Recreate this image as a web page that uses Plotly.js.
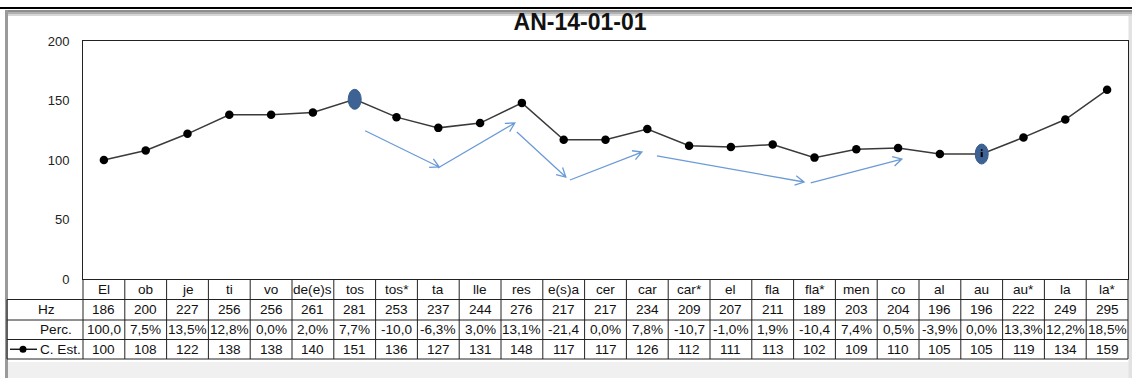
<!DOCTYPE html>
<html>
<head>
<meta charset="utf-8">
<script src="https://cdn.plot.ly/plotly-3.0.1.min.js"></script>
<style>html,body{margin:0;padding:0;background:#fff;}#chart{width:1132px;height:378px;}</style>
</head>
<body>
<div id="chart"></div>
<script>
const categories = ['El','ob','je','ti','vo','de(e)s','tos','tos*','ta','lle','res','e(s)a','cer','car','car*','el','fla','fla*','men','co','al','au','au*','la','la*'];
const hz = [186,200,227,256,256,261,281,253,237,244,276,217,217,234,209,207,211,189,203,204,196,196,222,249,295];
const perc = ['100,0','7,5%','13,5%','12,8%','0,0%','2,0%','7,7%','-10,0','-6,3%','3,0%','13,1%','-21,4','0,0%','7,8%','-10,7','-1,0%','1,9%','-10,4','7,4%','0,5%','-3,9%','0,0%','13,3%','12,2%','18,5%'];
const cEst = [100,108,122,138,138,140,151,136,127,131,148,117,117,126,112,111,113,102,109,110,105,105,119,134,159];
const highlighted = ['tos','au'];
const rowLabels = ['Hz','Perc.','C. Est.'];
const yTicks = [0,50,100,150,200];
const chartTitle = 'AN-14-01-01';

// decorative arrows (annotation sketch), in axis units: [x0,y0,x1,y1]
const arrows = [
  [6.25,124.6,8.02,94.1],
  [7.99,93.3,9.83,131.1],
  [9.88,123.5,11.05,85.7],
  [11.15,83.2,12.87,106.7],
  [13.23,103.4,16.75,81.5],
  [16.91,80.7,19.09,100.8]
];

const W = 1132, H = 378;
const L = 83, R = 1128, T = 41, B = 279;
const pw = R - L, ph = B - T;
const X = px => (px - L) / pw;
const Y = py => (B - py) / ph;
const sx = pw / categories.length;   // px per category
const sy = ph / 200;                  // px per unit

const xs = categories.map((c, i) => i);
const shapes = [];
const annotations = [];

function rectPx(x0, y0, x1, y1, fill, layer) {
  shapes.push({type:'rect', xref:'paper', yref:'paper', x0:X(x0), x1:X(x1), y0:Y(y0), y1:Y(y1),
    fillcolor:fill, line:{width:0}, layer: layer || 'below'});
}
function linePx(x0, y0, x1, y1, color, width, layer) {
  shapes.push({type:'line', xref:'paper', yref:'paper', x0:X(x0), x1:X(x1), y0:Y(y0), y1:Y(y1),
    line:{color:color, width:width}, layer: layer || 'below'});
}
// frame
rectPx(8, 362, 1132, 378, '#f0f0f0');
rectPx(1128.5, 10, 1132, 378, '#e2e2e2');
rectPx(5, 10, 8, 378, '#9a9a9a');
rectPx(8, 10, 1132, 12, '#8e8e8e');
rectPx(8, 12, 1132, 14, '#b0b0b0');
rectPx(8, 14, 1132, 16, '#d6d6d6');
linePx(0, 8, W, 8, '#000', 2);

// table grid
const rowY = [279, 299.5, 320, 339.5, 359];
for (let r = 1; r < rowY.length; r++) linePx(7, rowY[r], R, rowY[r], '#222', 1);
linePx(7, rowY[1], 7, rowY[4], '#222', 1);
for (let k = 0; k <= categories.length; k++) {
  const px = L + k * sx;
  linePx(px, rowY[0], px, rowY[4], '#222', 1);
}

// table text
const tfont = {family:'Liberation Sans, Arial, sans-serif', size:13.6, color:'#111'};
const rowsData = [categories, hz, perc, cEst];
rowsData.forEach((row, r) => {
  const cy = (rowY[r] + rowY[r + 1]) / 2;
  row.forEach((v, i) => {
    annotations.push({xref:'x', yref:'paper', x:i, y:Y(cy), text:String(v), showarrow:false,
      font:tfont, xanchor:'center', yanchor:'middle'});
  });
});
const labelX = [46.5, 56, 60.5];
rowLabels.forEach((t, r) => {
  const cy = (rowY[r + 1] + rowY[r + 2]) / 2;
  annotations.push({xref:'paper', yref:'paper', x:X(labelX[r]), y:Y(cy), text:t, showarrow:false,
    font:tfont, xanchor:'center', yanchor:'middle'});
});
// legend key
const ky = (rowY[3] + rowY[4]) / 2;
linePx(10, ky, 37, ky, '#000', 1.3, 'above');
shapes.push({type:'circle', xref:'paper', yref:'paper', x0:X(19.5), x1:X(26.5), y0:Y(ky+3.5), y1:Y(ky-3.5),
  fillcolor:'#000', line:{width:0}, layer:'above'});

// highlighted ellipses
highlighted.forEach((c, n) => {
  const i = categories.indexOf(c);
  const v = cEst[i];
  shapes.push({type:'circle', xref:'x', yref:'y', x0:i - 6.5/sx, x1:i + 6.5/sx, y0:v - 10/sy, y1:v + 10/sy,
    fillcolor:'#3d6394', line:{color:'#3a5d8c', width:1}, layer:'above'});
  if (n === 1) {
    shapes.push({type:'line', xref:'x', yref:'y', x0:i, x1:i, y0:v - 3/sy, y1:v + 2/sy,
      line:{color:'#000', width:2}, layer:'above'});
    shapes.push({type:'circle', xref:'x', yref:'y', x0:i - 1/sx, x1:i + 1/sx, y0:v + 3/sy, y1:v + 5/sy,
      fillcolor:'#000', line:{width:0}, layer:'above'});
  }
});

// arrows with open heads
arrows.forEach(a => {
  const [x0, y0, x1, y1] = a;
  const dx = (x1 - x0) * sx, dy = -(y1 - y0) * sy;
  const th = Math.atan2(dy, dx);
  const Lh = 10;
  const pts = [th + Math.PI - 0.5, th + Math.PI + 0.5].map(ang =>
    [x1 + Lh * Math.cos(ang) / sx, y1 - Lh * Math.sin(ang) / sy]);
  const path = `M${x0},${y0} L${x1},${y1} M${pts[0][0]},${pts[0][1]} L${x1},${y1} L${pts[1][0]},${pts[1][1]}`;
  shapes.push({type:'path', xref:'x', yref:'y', path:path, line:{color:'#6b9bd6', width:1.3}, layer:'above'});
});

const trace = {
  x: xs, y: cEst, text: categories, type:'scatter', mode:'lines+markers',
  line:{color:'#3a3a3a', width:1.5},
  marker:{color:'#000', size:8.5},
  hoverinfo:'text+y', cliponaxis:false
};

const layout = {
  width: W, height: H,
  margin:{l:L, r:W - R, t:T, b:H - B, pad:0},
  paper_bgcolor:'#fff', plot_bgcolor:'rgba(0,0,0,0)',
  showlegend:false,
  title:{text:'<b>' + chartTitle + '</b>', font:{family:'Liberation Sans, Arial, sans-serif', size:23, color:'#111'},
    xref:'container', yref:'container', x:580/W, xanchor:'center', y:1 - 21.5/H, yanchor:'middle'},
  xaxis:{range:[-0.5, categories.length - 0.5], showticklabels:false, ticks:'', showgrid:false, zeroline:false,
    showline:true, mirror:true, linecolor:'#222', linewidth:1, fixedrange:true},
  yaxis:{range:[0,200], tickvals:yTicks, ticks:'outside', ticklen:10, tickcolor:'rgba(0,0,0,0)',
    showgrid:false, zeroline:false, showline:true, mirror:true, linecolor:'#222', linewidth:1,
    tickfont:{family:'Liberation Sans, Arial, sans-serif', size:13, color:'#222'}, fixedrange:true},
  shapes: shapes,
  annotations: annotations
};

Plotly.newPlot('chart', [trace], layout, {displayModeBar:false, staticPlot:true});
</script>
</body>
</html>
